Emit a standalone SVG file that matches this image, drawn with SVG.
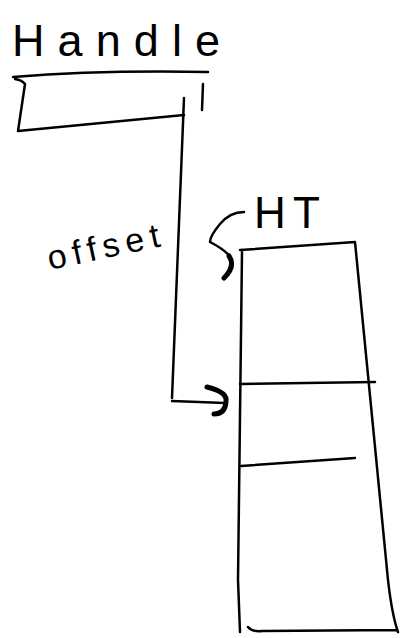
<svg xmlns="http://www.w3.org/2000/svg" width="402" height="638" viewBox="0 0 402 638">
<style>
.ln{fill:none;stroke:#000;stroke-width:2.5;stroke-linecap:round;stroke-linejoin:round}
.hd{fill:none;stroke:#000;stroke-width:5;stroke-linecap:round;stroke-linejoin:round}
.tx{font-family:"Liberation Sans",Arial,sans-serif;fill:#000}
</style>
<rect width="402" height="638" fill="#fff"/>
<g id="handle">
<text class="tx" x="12" y="56" font-size="45" textLength="208" lengthAdjust="spacing">Handle</text>
<path class="ln" d="M13,77 Q100,70 208,72"/>
<path class="ln" d="M15,79 Q22,80 25,84 L18,131 L184,115"/>
<path class="ln" d="M203,84 L202,110"/>
</g>
<g id="ht">
<text class="tx" x="254" y="228" font-size="44" textLength="66" lengthAdjust="spacing">HT</text>
<path class="ln" d="M240,250 L355,242 L388,580 Q392,615 398,632 M242,252 L238,580 L240,632 M248,627 Q252,632 262,631 L397,630"/>
<path class="ln" d="M240,384 L375,382"/>
<path class="ln" d="M241,466 L355,458"/>
</g>
<g id="connectors">
<path class="ln" d="M184,98 L172,398 M172,401 L225,403"/>
<path class="hd" d="M207,387 Q228,392 226,402 Q225,414 214,414"/>
<path class="ln" d="M244,212 Q230,212 220,224 Q210,236 210,242 Q222,248 230,256"/>
<path class="hd" d="M229,256 Q236,266 224,278"/>
<text class="tx" x="50" y="270" font-size="34" textLength="114" lengthAdjust="spacing" transform="rotate(-12 50 270)">offset</text>
</g>
</svg>
